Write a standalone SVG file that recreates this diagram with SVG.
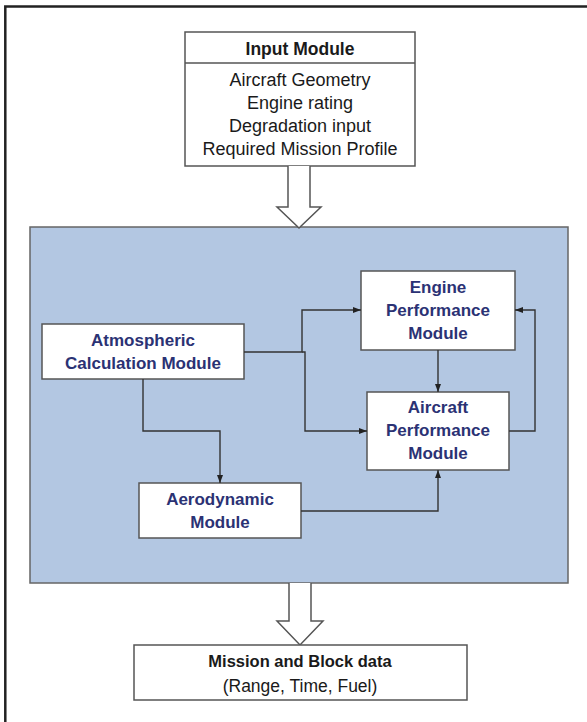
<svg xmlns="http://www.w3.org/2000/svg" width="587" height="722" viewBox="0 0 587 722">
<style>
.box{fill:#ffffff;stroke:#555555;stroke-width:1.5}
.t{font-family:"Liberation Sans",Arial,sans-serif;text-anchor:middle;fill:#1a1a1a}
.b{font-weight:bold}
.m{font-family:"Liberation Sans",Arial,sans-serif;text-anchor:middle;font-weight:bold;fill:#2b3274;font-size:17px}
.c{fill:none;stroke:#333333;stroke-width:1.4}
.hollow{fill:#ffffff;stroke:#555555;stroke-width:1.5;stroke-linejoin:miter}
</style>
<defs>
<marker id="ah" markerUnits="userSpaceOnUse" markerWidth="8" markerHeight="6" refX="8" refY="3" orient="auto">
<path d="M0,0 L8,3 L0,6 z" fill="#222222"/>
</marker>
</defs>
<rect x="0" y="0" width="587" height="722" fill="#ffffff"/>
<rect x="5.3" y="6.5" width="620" height="760" fill="none" stroke="#222222" stroke-width="2.5"/>

<g id="panel">
<rect x="30" y="227" width="538" height="356" fill="#b3c7e2" stroke="#666666" stroke-width="1.5"/>
</g>

<g id="input-module">
<rect class="box" x="185" y="32" width="230" height="134"/>
<line x1="185" y1="63" x2="415" y2="63" stroke="#555555" stroke-width="1.5"/>
<text class="t b" x="300" y="55" font-size="17.5">Input Module</text>
<text class="t" x="300" y="86" font-size="18">Aircraft Geometry</text>
<text class="t" x="300" y="109" font-size="18">Engine rating</text>
<text class="t" x="300" y="132" font-size="18">Degradation input</text>
<text class="t" x="300" y="155" font-size="18">Required Mission Profile</text>
</g>

<g id="arrow-in">
<path class="hollow" d="M288,166 L288,207 L277,207 L299,228 L321,207 L310,207 L310,166"/>
</g>

<g id="atmospheric">
<rect class="box" x="42" y="324" width="202" height="55"/>
<text class="m" x="143" y="346">Atmospheric</text>
<text class="m" x="143" y="369">Calculation Module</text>
</g>

<g id="engine">
<rect class="box" x="361" y="271" width="154" height="79"/>
<text class="m" x="438" y="293">Engine</text>
<text class="m" x="438" y="316">Performance</text>
<text class="m" x="438" y="339">Module</text>
</g>

<g id="aircraft">
<rect class="box" x="367" y="392" width="142" height="78"/>
<text class="m" x="438" y="413">Aircraft</text>
<text class="m" x="438" y="436">Performance</text>
<text class="m" x="438" y="459">Module</text>
</g>

<g id="aerodynamic">
<rect class="box" x="139" y="483" width="162" height="55"/>
<text class="m" x="220" y="505">Aerodynamic</text>
<text class="m" x="220" y="528">Module</text>
</g>

<g id="connectors">
<path class="c" d="M244,352 H302 V310 H361" marker-end="url(#ah)"/>
<path class="c" d="M302,352 H305 V431 H367" marker-end="url(#ah)"/>
<path class="c" d="M143,379 V431 H220 V483" marker-end="url(#ah)"/>
<path class="c" d="M301,511 H438 V470" marker-end="url(#ah)"/>
<path class="c" d="M438,350 V392" marker-end="url(#ah)"/>
<path class="c" d="M509,431 H535 V310 H515" marker-end="url(#ah)"/>
</g>

<g id="arrow-out">
<path class="hollow" d="M289,583 L289,621 L277,621 L300,645 L323,621 L311,621 L311,583"/>
</g>

<g id="mission">
<rect class="box" x="134" y="645" width="333" height="55"/>
<text class="t b" x="300" y="667" font-size="16.5">Mission and Block data</text>
<text class="t" x="300" y="692" font-size="17.5">(Range, Time, Fuel)</text>
</g>
</svg>
